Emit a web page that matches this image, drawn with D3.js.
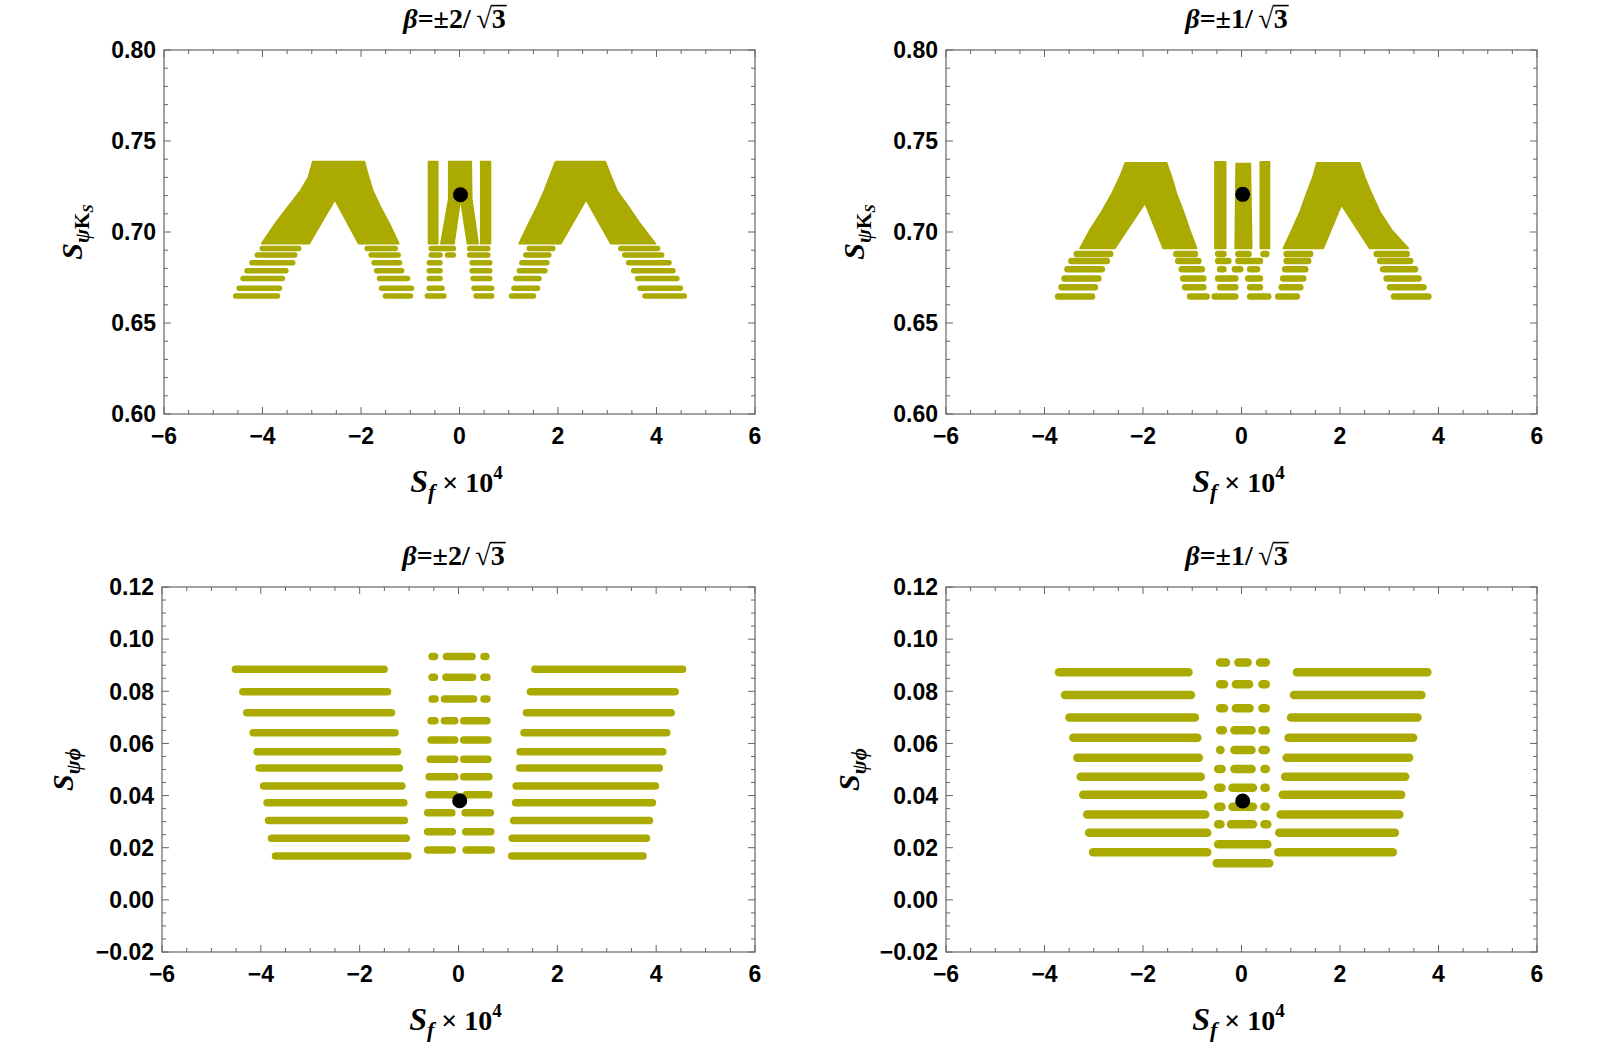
<!DOCTYPE html>
<html>
<head>
<meta charset="utf-8">
<title>S_psiKs and S_psiphi against S_f</title>
<style>
  body { margin: 0; background: #fff; }
  .tick-label { font-family: "Liberation Sans", Arial, sans-serif; font-weight: bold; font-size: 23px; fill: #000; }
  .serif { font-family: "Liberation Serif", "DejaVu Serif", serif; font-weight: bold; fill: #000; }
</style>
</head>
<body>
<div id="chart"></div>
<script src="https://cdnjs.cloudflare.com/ajax/libs/d3/7.8.5/d3.min.js"></script>
<script>
var width = 1600, height = 1044;
var olive = "#aaaa00";

// tick values
var xTicks = [-6, -4, -2, 0, 2, 4, 6];
var ksTicks = [0.60, 0.65, 0.70, 0.75, 0.80];
var phiTicks = [-0.02, 0, 0.02, 0.04, 0.06, 0.08, 0.10, 0.12];

// ---- top left: beta = +-2/sqrt3, S_psiKs ----
// merged (dense) parts of the scan, polygon outlines [Sf, S]
var tlRegions = [
  [[-4.02,0.6936],[-3.72,0.7055],[-3.49,0.7136],[-3.23,0.7227],[-3.07,0.7300],[-2.98,0.7387],[-1.93,0.7387],[-1.86,0.7318],[-1.76,0.7227],[-1.60,0.7136],[-1.42,0.7045],[-1.23,0.6936],[-2.05,0.6936],[-2.53,0.7176],[-3.05,0.6936]],
  [[-0.63,0.6936],[-0.63,0.7387],[-0.44,0.7387],[-0.44,0.6936]],
  [[-0.38,0.6936],[-0.22,0.7182],[-0.22,0.7387],[0.24,0.7387],[0.25,0.7182],[0.38,0.6936],[0.16,0.6936],[0.02,0.7182],[-0.11,0.6936]],
  [[0.43,0.6936],[0.43,0.7387],[0.63,0.7387],[0.63,0.6936]],
  [[1.21,0.6936],[1.40,0.7045],[1.57,0.7136],[1.72,0.7227],[1.85,0.7318],[1.95,0.7387],[2.96,0.7387],[3.06,0.7318],[3.20,0.7227],[3.44,0.7136],[3.67,0.7045],[3.98,0.6936],[3.07,0.6936],[2.57,0.7176],[2.06,0.6936]]
];
// separate rows of points [S, Sf from, Sf to]
var tlRows = [
  [0.6649,-4.60,-3.64],[0.6691,-4.53,-3.60],[0.6745,-4.45,-3.54],[0.6787,-4.37,-3.47],[0.6831,-4.27,-3.33],[0.6873,-4.16,-3.29],[0.6909,-4.06,-3.21],
  [0.6649,-1.56,-0.94],[0.6691,-1.64,-0.92],[0.6745,-1.68,-1.00],[0.6787,-1.74,-1.12],[0.6831,-1.79,-1.16],[0.6873,-1.85,-1.19],[0.6909,-1.93,-1.25],
  [0.6649,-0.71,-0.26],[0.6691,-0.67,-0.30],[0.6745,-0.67,-0.34],[0.6787,-0.67,-0.34],[0.6831,-0.67,-0.34],[0.6873,-0.63,-0.34],[0.6873,-0.30,-0.07],[0.6909,-0.63,-0.07],
  [0.6649,0.28,0.71],[0.6691,0.24,0.71],[0.6745,0.22,0.67],[0.6787,0.20,0.67],[0.6831,0.20,0.67],[0.6873,0.15,0.63],[0.6909,0.15,0.63],
  [0.6649,1.00,1.56],[0.6691,1.05,1.64],[0.6745,1.09,1.67],[0.6787,1.16,1.79],[0.6831,1.21,1.83],[0.6873,1.29,1.87],[0.6909,1.36,1.95],
  [0.6649,3.71,4.62],[0.6691,3.61,4.54],[0.6745,3.56,4.47],[0.6787,3.48,4.39],[0.6831,3.38,4.31],[0.6873,3.30,4.16],[0.6909,3.22,4.08]
];
var tlPoint = [0.02, 0.7205];

// ---- top right: beta = +-1/sqrt3, S_psiKs ----
var trRegions = [
  [[-3.28,0.6910],[-3.08,0.7011],[-2.84,0.7112],[-2.63,0.7212],[-2.47,0.7304],[-2.36,0.7381],[-1.52,0.7381],[-1.42,0.7304],[-1.32,0.7212],[-1.18,0.7112],[-1.05,0.7011],[-0.91,0.6910],[-1.59,0.6910],[-1.96,0.7158],[-2.57,0.6910]],
  [[-0.54,0.6910],[-0.54,0.7386],[-0.32,0.7386],[-0.32,0.6910]],
  [[-0.13,0.6910],[-0.11,0.7377],[0.18,0.7377],[0.21,0.6910]],
  [[0.38,0.6910],[0.38,0.7386],[0.57,0.7386],[0.57,0.6910]],
  [[0.85,0.6910],[1.02,0.7011],[1.19,0.7112],[1.32,0.7212],[1.45,0.7304],[1.53,0.7381],[2.40,0.7381],[2.50,0.7304],[2.64,0.7212],[2.81,0.7112],[3.05,0.7011],[3.39,0.6910],[2.60,0.6910],[2.03,0.7148],[1.66,0.6910]]
];
var trRows = [
  [0.6645,-3.79,-2.97],[0.6696,-3.72,-2.91],[0.6745,-3.66,-2.84],[0.6795,-3.60,-2.77],[0.6841,-3.52,-2.67],[0.6879,-3.41,-2.60],
  [0.6645,-1.11,-0.64],[0.6696,-1.21,-0.71],[0.6745,-1.25,-0.71],[0.6795,-1.28,-0.74],[0.6841,-1.35,-0.81],[0.6879,-1.39,-0.88],
  [0.6645,-0.61,-0.06],[0.6696,-0.50,-0.06],[0.6745,-0.54,-0.06],[0.6795,-0.50,-0.30],[0.6795,-0.20,0.04],[0.6841,-0.54,-0.20],[0.6879,-0.54,-0.30],
  [0.6645,0.11,0.61],[0.6696,0.11,0.44],[0.6745,0.07,0.44],[0.6795,0.11,0.38],[0.6841,-0.13,0.44],[0.6879,-0.13,0.21],[0.6879,0.38,0.57],
  [0.6645,0.68,1.19],[0.6696,0.75,1.26],[0.6745,0.78,1.32],[0.6795,0.82,1.36],[0.6841,0.85,1.42],[0.6879,0.85,1.46],
  [0.6645,3.03,3.86],[0.6696,2.95,3.76],[0.6745,2.88,3.66],[0.6795,2.81,3.59],[0.6841,2.75,3.49],[0.6879,2.68,3.42]
];
var trPoint = [0.024, 0.7207];

// ---- bottom left: beta = +-2/sqrt3, S_psiphi ----
var blRows = [
  [0.0885,-4.59,-1.43],[0.0798,-4.44,-1.36],[0.0718,-4.36,-1.28],[0.0641,-4.23,-1.21],[0.0568,-4.15,-1.16],[0.0506,-4.11,-1.12],
  [0.0437,-4.02,-1.07],[0.0372,-3.95,-1.03],[0.0304,-3.92,-1.02],[0.0236,-3.86,-0.98],[0.0168,-3.78,-0.95],
  [0.0933,-0.61,-0.41],[0.0933,-0.32,0.35],[0.0933,0.44,0.63],
  [0.0854,-0.61,-0.41],[0.0854,-0.33,0.36],[0.0854,0.44,0.65],
  [0.0770,-0.61,-0.40],[0.0770,-0.36,0.38],[0.0770,0.44,0.65],
  [0.0687,-0.63,-0.40],[0.0687,-0.36,0.00],[0.0687,0.03,0.65],
  [0.0613,-0.63,0.00],[0.0613,0.03,0.67],
  [0.0539,-0.65,0.00],[0.0539,0.03,0.67],
  [0.0472,-0.67,0.00],[0.0472,0.03,0.69],
  [0.0403,-0.67,0.00],[0.0403,0.08,0.69],
  [0.0334,-0.70,-0.06],[0.0334,0.06,0.72],
  [0.0261,-0.70,-0.05],[0.0261,0.07,0.73],
  [0.0191,-0.70,-0.05],[0.0191,0.08,0.74],
  [0.0885,1.47,4.61],[0.0798,1.38,4.46],[0.0718,1.30,4.38],[0.0641,1.25,4.29],[0.0568,1.17,4.21],[0.0506,1.16,4.14],
  [0.0437,1.09,4.06],[0.0372,1.08,4.00],[0.0304,1.04,3.94],[0.0236,1.01,3.88],[0.0168,1.00,3.81]
];
var blPoint = [0.024, 0.038];

// ---- bottom right: beta = +-1/sqrt3, S_psiphi ----
var brRows = [
  [0.0873,-3.79,-0.99],[0.0786,-3.67,-0.94],[0.0699,-3.58,-0.86],[0.0622,-3.50,-0.81],[0.0545,-3.42,-0.78],
  [0.0472,-3.35,-0.74],[0.0403,-3.30,-0.69],[0.0327,-3.22,-0.65],[0.0257,-3.18,-0.61],[0.0183,-3.10,-0.61],
  [0.0910,-0.52,-0.23],[0.0910,-0.15,0.21],[0.0910,0.29,0.58],
  [0.0827,-0.52,-0.27],[0.0827,-0.20,0.24],[0.0827,0.34,0.58],
  [0.0735,-0.52,-0.27],[0.0735,-0.20,0.25],[0.0735,0.34,0.58],
  [0.0651,-0.52,-0.29],[0.0651,-0.23,0.29],[0.0651,0.34,0.58],
  [0.0575,-0.52,-0.34],[0.0575,-0.23,0.29],[0.0575,0.34,0.58],
  [0.0502,-0.56,-0.32],[0.0502,-0.23,0.29],[0.0502,0.38,0.58],
  [0.0430,-0.56,-0.32],[0.0430,-0.27,0.32],[0.0430,0.38,0.58],
  [0.0357,-0.56,-0.32],[0.0357,-0.27,0.32],[0.0357,0.38,0.58],
  [0.0290,-0.56,-0.34],[0.0290,-0.30,0.32],[0.0290,0.38,0.61],
  [0.0213,-0.56,0.61],
  [0.0140,-0.59,0.65],
  [0.0873,1.04,3.86],[0.0786,0.98,3.74],[0.0699,0.92,3.66],[0.0622,0.87,3.57],[0.0545,0.83,3.49],
  [0.0472,0.80,3.41],[0.0403,0.75,3.33],[0.0327,0.71,3.29],[0.0257,0.68,3.20],[0.0183,0.66,3.16]
];
var brPoint = [0.024, 0.0379];

var panels = [
  { left: 164, top: 50, w: 591, h: 364, num: "2", yDomain: [0.60, 0.80], yTicks: ksTicks, yMinor: 0.01, yLab: "ks", labOff: 82, regions: tlRegions, rows: tlRows, point: tlPoint, band: 5.5 },
  { left: 946, top: 50, w: 591, h: 364, num: "1", yDomain: [0.60, 0.80], yTicks: ksTicks, yMinor: 0.01, yLab: "ks", labOff: 82, regions: trRegions, rows: trRows, point: trPoint, band: 6.5 },
  { left: 162, top: 587, w: 593, h: 365, num: "2", yDomain: [-0.02, 0.12], yTicks: phiTicks, yMinor: 0.005, yLab: "phi", labOff: 89, regions: [], rows: blRows, point: blPoint, band: 7.5 },
  { left: 946, top: 587, w: 591, h: 365, num: "1", yDomain: [-0.02, 0.12], yTicks: phiTicks, yMinor: 0.005, yLab: "phi", labOff: 87, regions: [], rows: brRows, point: brPoint, band: 8.5 }
];

var svg = d3.select("#chart").append("svg")
  .attr("width", width)
  .attr("height", height);

// text made of pieces with baseline shifts (sub/superscripts)
function richText(parent, parts, cls) {
  var t = parent.append("text").attr("class", cls);
  var shift = 0;
  parts.forEach(function(p) {
    var b = p.b || 0;
    t.append("tspan")
      .attr("dy", b - shift)
      .style("font-size", p.s + "px")
      .style("font-style", p.i ? "italic" : "normal")
      .text(p.t);
    shift = b;
  });
  return t;
}

function valuesBetween(d0, d1, step) {
  var n = Math.round((d1 - d0) / step);
  return d3.range(n + 1).map(function(i) { return d0 + i * step; });
}

panels.forEach(function(p) {
  var x = d3.scaleLinear().domain([-6, 6]).range([p.left, p.left + p.w]);
  var y = d3.scaleLinear().domain(p.yDomain).range([p.top + p.h, p.top]);
  var g = svg.append("g");
  var bottom = p.top + p.h, right = p.left + p.w;

  // dense regions
  var line = d3.line().x(function(d) { return x(d[0]); }).y(function(d) { return y(d[1]); });
  g.selectAll("path.region").data(p.regions).join("path")
    .attr("class", "region")
    .attr("d", function(d) { return line(d) + "Z"; })
    .attr("fill", olive)
    .attr("stroke", olive)
    .attr("stroke-width", 1.5)
    .attr("stroke-linejoin", "round");

  // rows of points
  var hw = p.band / 2;
  g.selectAll("line.row").data(p.rows).join("line")
    .attr("class", "row")
    .attr("x1", function(d) { var m = (x(d[1]) + x(d[2])) / 2; return Math.min(x(d[1]) + hw, m); })
    .attr("x2", function(d) { var m = (x(d[1]) + x(d[2])) / 2; return Math.max(x(d[2]) - hw, m); })
    .attr("y1", function(d) { return y(d[0]); })
    .attr("y2", function(d) { return y(d[0]); })
    .attr("stroke", olive)
    .attr("stroke-width", p.band)
    .attr("stroke-linecap", "round");

  // reference point
  g.append("circle")
    .attr("cx", x(p.point[0]))
    .attr("cy", y(p.point[1]))
    .attr("r", 7.5)
    .attr("fill", "#000");

  // frame
  g.append("rect")
    .attr("x", p.left).attr("y", p.top)
    .attr("width", p.w).attr("height", p.h)
    .attr("fill", "none")
    .attr("stroke", "#666")
    .attr("stroke-width", 1.2);

  // ticks on all four sides, pointing inwards
  var xm = valuesBetween(-6, 6, 0.5);
  g.selectAll("line.xt").data(xm).join("line")
    .attr("class", "xt")
    .attr("x1", function(d) { return x(d); }).attr("x2", function(d) { return x(d); })
    .attr("y1", bottom)
    .attr("y2", function(d) { return bottom - (d % 2 === 0 ? 7 : 4); })
    .attr("stroke", "#666");
  g.selectAll("line.xtt").data(xm).join("line")
    .attr("class", "xtt")
    .attr("x1", function(d) { return x(d); }).attr("x2", function(d) { return x(d); })
    .attr("y1", p.top)
    .attr("y2", function(d) { return p.top + (d % 2 === 0 ? 7 : 4); })
    .attr("stroke", "#666");

  var ym = valuesBetween(p.yDomain[0], p.yDomain[1], p.yMinor);
  function isMajor(v) {
    return p.yTicks.some(function(t) { return Math.abs(t - v) < 1e-9; });
  }
  g.selectAll("line.yt").data(ym).join("line")
    .attr("class", "yt")
    .attr("x1", p.left)
    .attr("x2", function(d) { return p.left + (isMajor(d) ? 7 : 4); })
    .attr("y1", function(d) { return y(d); }).attr("y2", function(d) { return y(d); })
    .attr("stroke", "#666");
  g.selectAll("line.ytr").data(ym).join("line")
    .attr("class", "ytr")
    .attr("x1", right)
    .attr("x2", function(d) { return right - (isMajor(d) ? 7 : 4); })
    .attr("y1", function(d) { return y(d); }).attr("y2", function(d) { return y(d); })
    .attr("stroke", "#666");

  // tick labels
  g.selectAll("text.xl").data(xTicks).join("text")
    .attr("class", "xl tick-label")
    .attr("x", function(d) { return x(d); })
    .attr("y", bottom + 30)
    .attr("text-anchor", "middle")
    .text(function(d) { return d < 0 ? "\u2212" + Math.abs(d) : d; });

  var yFmt = d3.format(".2f");
  g.selectAll("text.yl").data(p.yTicks).join("text")
    .attr("class", "yl tick-label")
    .attr("x", p.left - 8)
    .attr("y", function(d) { return y(d); })
    .attr("dy", "0.36em")
    .attr("text-anchor", "end")
    .text(function(d) { return yFmt(d).replace("-", "\u2212"); });

  var cx = p.left + p.w / 2;

  // title  beta = +-n / sqrt3
  var tSize = 28, tBase = p.top - 22;
  var title = richText(g, [
    { t: "\u03B2", s: tSize, i: true },
    { t: "=\u00B1" + p.num + "/\u2009", s: tSize },
    { t: "\u221A3", s: tSize }
  ], "serif")
    .attr("x", cx - 5)
    .attr("y", tBase)
    .attr("text-anchor", "middle");
  var tn = title.node();
  var nc = tn.getNumberOfChars();
  var rad = tn.getExtentOfChar(nc - 2), three = tn.getExtentOfChar(nc - 1);
  g.append("line")
    .attr("x1", rad.x + rad.width - 1)
    .attr("x2", three.x + three.width + 1)
    .attr("y1", tBase - 0.8 * tSize)
    .attr("y2", tBase - 0.8 * tSize)
    .attr("stroke", "#000")
    .attr("stroke-width", 1.6);

  // x axis label  S_f x 10^4
  richText(g, [
    { t: "S", s: 32, i: true },
    { t: "f", s: 22, i: true, b: 7 },
    { t: " \u00D7 10", s: 28 },
    { t: "4", s: 19, b: -13 }
  ], "serif")
    .attr("x", cx - 3)
    .attr("y", bottom + 78)
    .attr("text-anchor", "middle");

  // y axis label
  var yParts = p.yLab === "ks"
    ? [{ t: "S", s: 30, i: true }, { t: "\u03C8", s: 21, i: true, b: 7 }, { t: "K", s: 21, b: 7 }, { t: "S", s: 15, i: true, b: 11 }]
    : [{ t: "S", s: 30, i: true }, { t: "\u03C8\u03D5", s: 21, i: true, b: 7 }];
  var cy = p.top + p.h / 2;
  richText(g, yParts, "serif")
    .attr("text-anchor", "middle")
    .attr("transform", "translate(" + (p.left - p.labOff) + "," + cy + ") rotate(-90)");
});
</script>
</body>
</html>
